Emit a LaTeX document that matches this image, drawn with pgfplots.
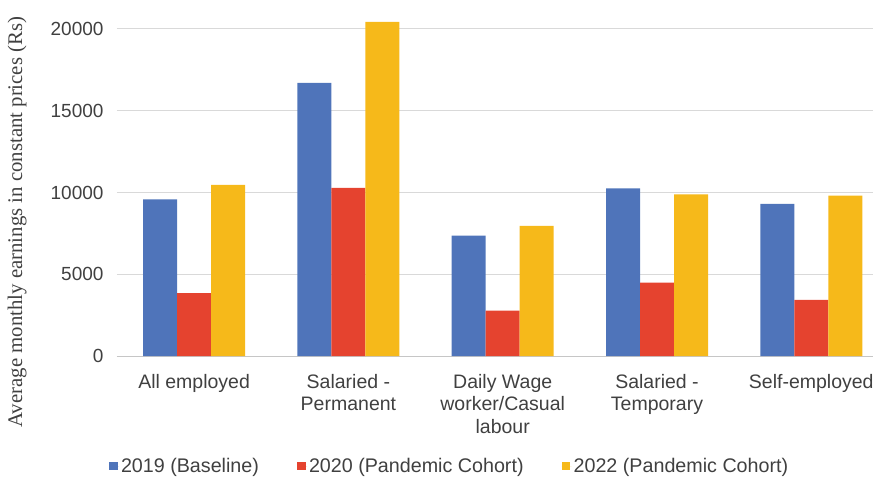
\documentclass[border=0pt]{standalone}
\usepackage{pgfplots}
\pgfplotsset{compat=1.18}
\usepackage{fontspec}
\setmainfont{Liberation Sans}
\newfontfamily\serifff{Liberation Serif}
\definecolor{cblue}{HTML}{4F74BA}
\definecolor{cred}{HTML}{E5432F}
\definecolor{cyel}{HTML}{F6B91A}
\definecolor{ctext}{HTML}{404040}
\begin{document}
\begin{tikzpicture}
\path[use as bounding box] (0,0) rectangle (873pt,480pt);
\begin{axis}[
  at={(117pt,124pt)}, anchor=south west,
  scale only axis, width=756pt, height=356pt,
  xmin=-0.5, xmax=4.4, ymin=0, ymax=21770,
  clip=false,
  axis x line*=bottom, axis y line*=left,
  y axis line style={draw=none},
  x axis line style={draw=gray!45, line width=1pt, -},
  major tick length=0pt,
  ymajorgrids, major grid style={draw=gray!30, line width=1pt},
  ytick={0,5000,10000,15000,20000},
  /pgf/number format/assume math mode=true,
  scaled y ticks=false,
  yticklabel style={/pgf/number format/1000 sep={}, font=\fontsize{19}{22}\selectfont, text=ctext, xshift=-10pt},
  xtick={0,1,2,3,4},
  xticklabels={All employed, {Salaried -\\Permanent}, {Daily Wage\\worker/Casual\\labour}, {Salaried -\\Temporary}, Self-employed},
  xticklabel style={align=center, font=\fontsize{19.5}{22.3}\selectfont, text=ctext, yshift=-15pt},
  ylabel={Average monthly earnings in constant prices (Rs)},
  ylabel style={font=\serifff\fontsize{20.8}{24}\selectfont, text=ctext, at={(axis description cs:-0.132,0.376)}, anchor=center},
  ybar, bar width=34pt,
  legend style={at={(axis description cs:0.44,-0.309)}, anchor=center, draw=none, fill=none,
    legend columns=3, font=\fontsize{19.7}{22}\selectfont, text=ctext,
    /tikz/every even column/.append style={column sep=36pt}},
  legend image code/.code={\fill[#1] (0pt,-4pt) rectangle (8.5pt,4.5pt); \path (0pt,0pt) -- (10pt,0pt);},
]
\addplot[draw=none, fill=cblue, bar shift=-34pt] coordinates {(0,9580) (1,16700) (2,7360) (3,10250) (4,9300)};
\addplot[draw=none, fill=cred, bar shift=0pt] coordinates {(0,3850) (1,10280) (2,2780) (3,4480) (4,3430)};
\addplot[draw=none, fill=cyel, bar shift=34pt] coordinates {(0,10460) (1,20430) (2,7950) (3,9890) (4,9800)};
\legend{2019 (Baseline), 2020 (Pandemic Cohort), 2022 (Pandemic Cohort)}
\end{axis}
\end{tikzpicture}
\end{document}
